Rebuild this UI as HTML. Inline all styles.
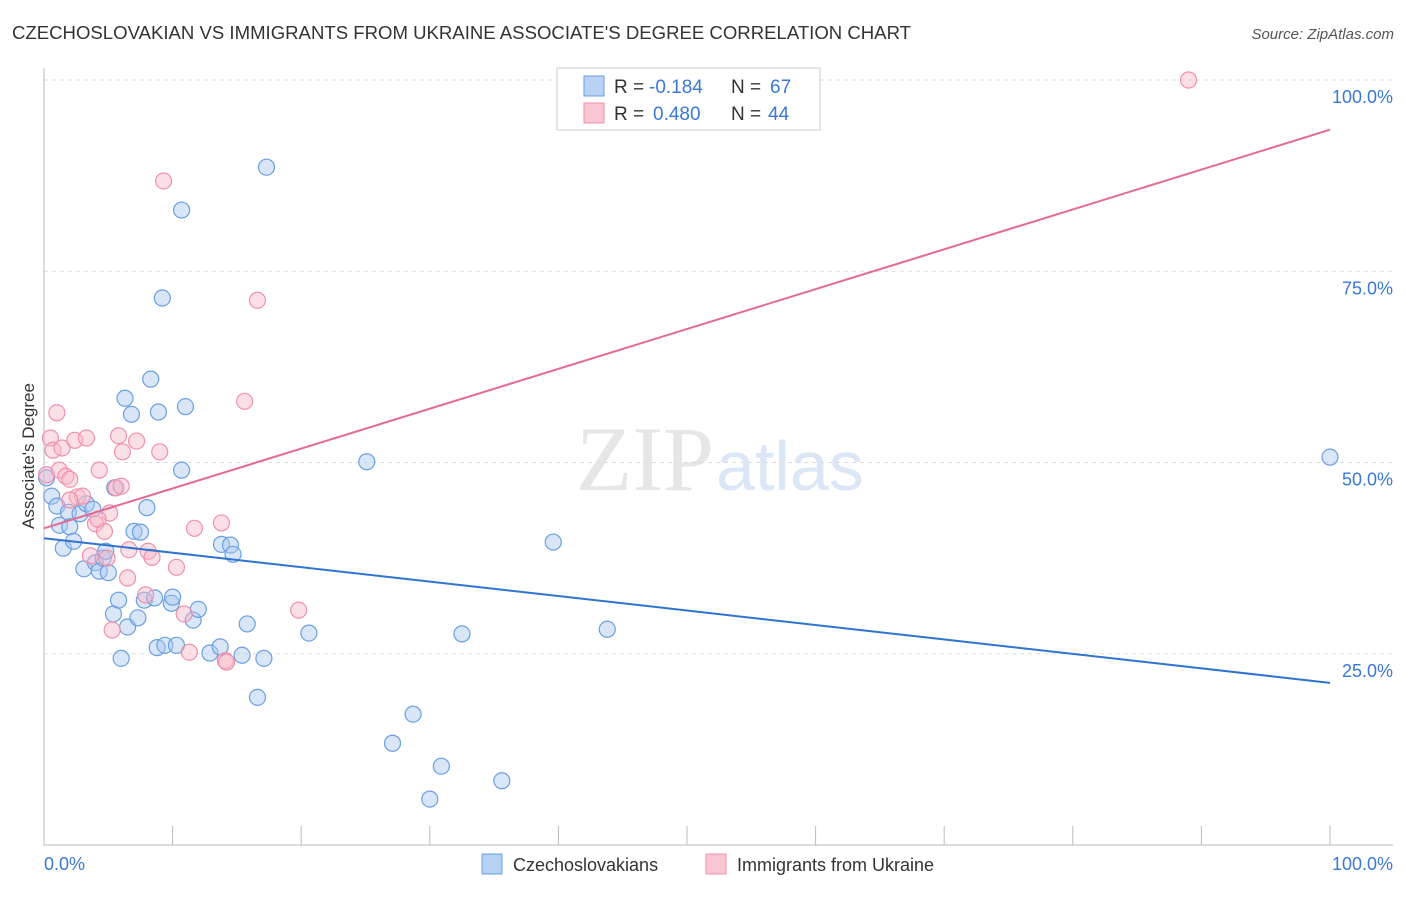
<!DOCTYPE html>
<html><head><meta charset="utf-8"><style>
body{margin:0;background:#fff;font-family:"Liberation Sans",sans-serif}
</style></head><body>
<svg width="1406" height="892" xmlns="http://www.w3.org/2000/svg" id="chart">
<text x="12" y="39" font-size="18" fill="#333" textLength="899" lengthAdjust="spacingAndGlyphs">CZECHOSLOVAKIAN VS IMMIGRANTS FROM UKRAINE ASSOCIATE'S DEGREE CORRELATION CHART</text>
<text x="1394" y="39" font-size="15" fill="#555" font-style="italic" text-anchor="end">Source: ZipAtlas.com</text>
<text x="714" y="490" font-size="92" fill="#e6e6e6" text-anchor="end" font-family="Liberation Serif,serif">ZIP</text>
<text x="716" y="490" font-size="70" fill="#dbe7f7">atlas</text>
<g id="grid"></g><g id="axes"></g><g id="pts"></g><g id="trend"></g>
<text x="34" y="456" font-size="17" fill="#333" text-anchor="middle" transform="rotate(-90 34 456)">Associate's Degree</text>
<text x="44" y="870" font-size="18" fill="#3a78d6">0.0%</text>
<text x="1393" y="870" font-size="18" fill="#3a78d6" text-anchor="end">100.0%</text>
<g>
<rect x="557" y="68" width="263" height="62" fill="#fff" stroke="#ccc"/>
<rect x="584" y="76" width="20" height="20" fill="#b7d2f5" stroke="#6a9fe0"/>
<rect x="584" y="103" width="20" height="20" fill="#f9c6d4" stroke="#ef90ac"/>
<text x="614" y="93" font-size="19" fill="#333">R =</text>
<text x="649" y="93" font-size="19" fill="#3a78d6">-0.184</text>
<text x="731" y="93" font-size="19" fill="#333">N =</text>
<text x="770" y="93" font-size="19" fill="#3a78d6">67</text>
<text x="614" y="120" font-size="19" fill="#333">R =</text>
<text x="653" y="120" font-size="19" fill="#3a78d6">0.480</text>
<text x="731" y="120" font-size="19" fill="#333">N =</text>
<text x="768" y="120" font-size="19" fill="#3a78d6">44</text>
</g>
<g>
<rect x="482" y="854" width="20" height="20" fill="#b7d2f5" stroke="#6a9fe0"/>
<text x="513" y="871" font-size="18" fill="#333">Czechoslovakians</text>
<rect x="706" y="854" width="20" height="20" fill="#f9c6d4" stroke="#ef90ac"/>
<text x="737" y="871" font-size="18" fill="#333">Immigrants from Ukraine</text>
</g>
</svg>
<script>
const yTicks=[25,50,75,100];
const yTickLabels=["25.0%","50.0%","75.0%","100.0%"];
const xTicks=[0,10,20,30,40,50,60,70,80,90,100];
const blueX=[0.2,0.6,1.0,1.2,1.5,1.9,2.0,2.3,2.8,3.1,3.3,3.8,4.0,4.3,4.6,4.8,5.0,5.4,5.5,5.8,6.0,6.3,6.5,6.8,7.0,7.3,7.5,7.8,8.0,8.3,8.6,8.8,8.9,9.2,9.4,9.9,10.0,10.3,10.7,10.7,11.0,11.6,12.0,12.9,13.7,13.8,14.5,14.7,15.4,15.8,16.6,17.1,17.3,20.6,25.1,27.1,28.7,30.0,30.9,32.5,35.6,39.6,43.8,100];
const blueY=[48.0,45.6,44.3,41.8,38.8,43.5,41.6,39.7,43.3,36.1,44.6,43.9,36.9,35.8,37.5,38.4,35.6,30.2,46.7,32.0,24.4,58.4,28.5,56.3,41.0,29.7,40.9,32.0,44.1,60.9,32.3,25.8,56.6,71.5,26.1,31.6,32.4,26.1,83.0,49.0,57.3,29.4,30.8,25.1,25.9,39.3,39.2,38.0,24.8,28.9,19.3,24.4,88.6,27.7,50.1,13.3,17.1,6.0,10.3,27.6,8.4,39.6,28.2,50.7];
const pinkX=[0.2,0.5,0.7,1.0,1.2,1.4,1.7,2.0,2.4,2.6,3.0,3.3,3.6,4.0,4.3,4.7,4.9,5.3,5.6,5.8,6.1,6.5,6.6,7.2,7.9,8.1,8.4,9.0,9.3,10.3,10.9,11.3,11.7,13.8,14.1,14.2,15.6,16.6,19.8,89.0,5.1,4.2,6.0,2.0];
const pinkY=[48.4,53.2,51.6,56.5,49.0,51.9,48.2,47.8,52.9,45.5,45.6,53.2,37.8,42.0,49.0,41.0,37.5,28.1,46.7,53.5,51.4,34.9,38.6,52.8,32.7,38.4,37.6,51.4,86.8,36.3,30.2,25.2,41.4,42.1,24.1,23.9,58.0,71.2,30.7,100,43.4,42.6,46.9,45.1];
const blueTrend=[40.1,21.2];
const pinkTrend=[41.4,93.5];
const NS="http://www.w3.org/2000/svg";
const sx=v=>44+v*12.86, sy=v=>845-v*7.65;
function mk(tag,attrs,parent){const e=document.createElementNS(NS,tag);for(const k in attrs)e.setAttribute(k,attrs[k]);document.getElementById(parent).appendChild(e);return e;}
yTicks.forEach((t,i)=>{
 const l=mk('line',{x1:44,x2:1393,y1:sy(t),y2:sy(t),stroke:'#ddd','stroke-dasharray':'4,4'},'grid');
 
 
 const tx=mk('text',{x:1393,y:sy(t)+23,'font-size':18,fill:'#3a78d6','text-anchor':'end'},'grid');
 tx.textContent=yTickLabels[i];
 
 
});
const ax=mk('line',{x1:44,x2:44,y1:68,y2:845,stroke:'#bbb'},'axes');


const bx=mk('line',{x1:44,x2:1393,y1:845,y2:845,stroke:'#bbb'},'axes');


xTicks.forEach(t=>{
 const l=mk('line',{x1:sx(t),x2:sx(t),y1:826,y2:845,stroke:'#bbb'},'axes');
 
 
});
blueX.forEach((x,i)=>{
 const c=mk('circle',{cx:sx(x),cy:sy(blueY[i]),r:8,fill:'rgba(168,200,240,0.45)',stroke:'#6a9fe0','stroke-width':1.2},'pts');
 
 
});
pinkX.forEach((x,i)=>{
 const c=mk('circle',{cx:sx(x),cy:sy(pinkY[i]),r:8,fill:'rgba(246,184,200,0.45)',stroke:'#ef90ac','stroke-width':1.2},'pts');
 
 
});
const bt=mk('line',{x1:sx(0),x2:sx(100),y1:sy(blueTrend[0]),y2:sy(blueTrend[1]),stroke:'#2f74d0','stroke-width':2},'trend');


const pt=mk('line',{x1:sx(0),x2:sx(100),y1:sy(pinkTrend[0]),y2:sy(pinkTrend[1]),stroke:'#e46a93','stroke-width':2},'trend');


</script>
</body></html>
